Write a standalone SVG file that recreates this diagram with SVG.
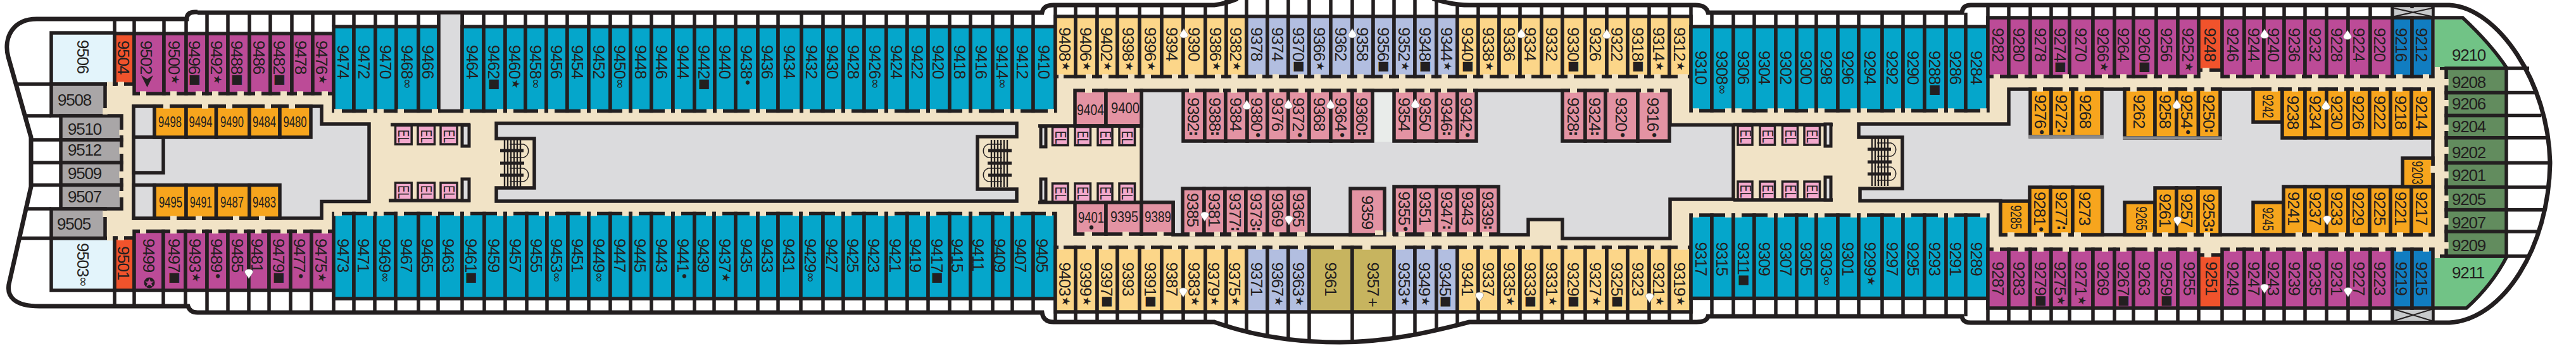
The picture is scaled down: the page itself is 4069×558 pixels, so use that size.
<svg xmlns="http://www.w3.org/2000/svg" width="4069" height="558" viewBox="0 0 4069 558">
<style>
rect{stroke:#231f20;stroke-width:5.5}
text{fill:#231f20;font-family:"Liberation Sans",Arial,sans-serif;font-size:26px;letter-spacing:-1.2px}
tspan{font-family:"DejaVu Sans",sans-serif;letter-spacing:0}
.a{font-size:17px}.b{font-size:20px}.c{font-size:22px}.d{font-size:21px;font-weight:bold}.e{font-size:20px}
.p{font-family:"Liberation Sans",sans-serif}
.h{font-size:23px;letter-spacing:0}
.sm{font-size:23px;letter-spacing:0}
.el text{font-size:23px;letter-spacing:0}
.w{fill:none;stroke:#231f20;stroke-width:5.5}
.hull{fill:none;stroke:#231f20;stroke-width:7}
.door{fill:none;stroke:#F1E3C6;stroke-width:7.5}
.bg{fill:#F1E3C6;stroke:none}
.gray{fill:#DBDBDD;stroke:#231f20;stroke-width:5.5}
.blue rect{fill:#05A6CB}.pur rect{fill:#BC4B97}.org rect{fill:#F0532C}.amb rect{fill:#F7A51D}.yel rect{fill:#FCD689}
.lav rect{fill:#B2BEE0}.ros rect{fill:#E393A3}.olv rect{fill:#C7B45F}.dbl rect{fill:#117DC1}.gc rect{fill:#A9A6A7}
.lb rect{fill:#E3F4FB}.dg rect{fill:#628C5E}.el rect{fill:#F3A9CC;stroke-width:3.5}.cl rect{fill:#DBDBDD;stroke-width:5}
.lg rect{fill:#DBDBDD}
</style>
<defs>
<path id="tu" d="M0-7C2-3 6.5 1 6.5 4A6.5 4 0 0 1-6.5 4C-6.5 1-2-3 0-7Z" fill="#fff" stroke="#777" stroke-width=".6"/>
<path id="td" d="M0 7C2 3 6.5-1 6.5-4A6.5 4 0 0 0-6.5-4C-6.5-1-2 3 0 7Z" fill="#fff" stroke="#777" stroke-width=".6"/>
<g id="st">
<path d="M797 221V296M802 221V296M807 221V296M812 221V296M817 221V296M822 221V296" fill="none" stroke="#231f20" stroke-width="2.4"/>
<path d="M790 238H827M790 258H828M790 277H827" fill="none" stroke="#231f20" stroke-width="5"/>
<path d="M805 228H827a11 11 0 0 1 0 21H805M805 266H827a11 11 0 0 1 0 21H805" fill="none" stroke="#231f20" stroke-width="1.6"/>
</g>
</defs>

<rect class="bg" x="165" y="120" width="3697" height="289"/>
<rect class="bg" x="3846" y="105" width="8.5" height="17"/>
<rect class="bg" x="3854" y="110" width="10" height="12"/>
<rect class="bg" x="3476" y="112" width="32" height="10"/>
<rect class="bg" x="3476" y="396" width="32" height="6"/>

<g id="gray-areas">
<path class="gray" d="M211 168H508V196H583V318.5H508V345H211Z"/>
<path class="gray" d="M784 195H1606V216H1544V299H1606V318H784V297H844V219H784Z"/>
<path class="gray" d="M1803 143H2638V197.5H2738V315H2638V377H2468V347H2414V371H1853V320H1803Z"/>
<path class="gray" d="M3173 141H3843V371H3160V317.5H2938V298H3005V217H2936V196H3173Z"/>
<rect x="2171" y="146" width="28" height="78" style="fill:#E9ECEA;stroke:none"/>
<rect class="bg" x="2168" y="367" width="32" height="7"/>
</g>

<g id="hull">
<path class="hull" d="M312 19H308Q295 19 295 30H62C20 28 5 60 13 90L49 217V295L15 445C8 470 25 484 62 484H297Q300 494 312 494H1646Q1648 509 1664 509H1918C1990 535 2060 541 2116 541C2190 541 2260 525 2321 509H2680Q2696 509 2698 500H3099Q3100 510 3113 510H3869C3955 505 4026 390 4028 258C4026 130 3945 12 3869 8H3113Q3100 8 3099 20H2698Q2695 8 2678 8H2321Q2295 8 2263-2M1955-2Q1935 6 1918 8H1664Q1648 8 1646 20H312"/>
</g>

<g id="balcony-lines">
<path class="w" d="M181 30V53M212 30V53M259 30V53M294 30V53M327 20V53M360 20V53M394 20V53M427 20V53M461 20V53M494 20V53M527 20V42M559 20V42M593 20V42M626 20V42M661 20V42M693 20V42M730 20V42M764 20V42M798 20V42M830 20V42M863 20V42M896 20V42M930 20V42M964 20V42M996 20V42M1029 20V42M1063 20V42M1097 20V42M1129 20V42M1162 20V42M1197 20V42M1229 20V42M1266 20V42M1300 20V42M1332 20V42M1365 20V42M1400 20V42M1433 20V42M1466 20V42M1500 20V42M1533 20V42M1568 20V42M1599 20V42M1632 20V42M1667 8V42"/>
<path class="w" d="M181 459V483M212 459V483M258 459V483M293 459V483M327 459V494M360 459V494M393 459V494M425 459V494M459 459V494M492 459V494M527 459V494M559 472V494M592 472V494M625 472V494M661 472V494M692 472V494M730 472V494M765 472V494M798 472V494M832 472V494M864 472V494M897 472V494M930 472V494M964 472V494M996 472V494M1029 472V494M1063 472V494M1097 472V494M1128 472V494M1162 472V494M1197 472V494M1229 472V494M1265 472V494M1300 472V494M1332 472V494M1365 472V494M1400 472V494M1433 472V494M1466 472V494M1500 472V494M1533 472V494M1568 472V494M1599 472V494M1632 472V494M1667 472V509"/>
<path class="w" d="M1699 8V26M1733 8V26M1765 8V26M1800 8V26M1835 8V26M1869 8V26M1904 8V26M1937 0V26M1969 0V26M2002 0V26M2035 0V26M2068 0V26M2102 0V26M2136 0V26M2169 0V26M2202 0V26M2235 0V26M2269 0V26M2302 4V26M2335 8V26M2368 8V26M2401 8V26M2435 8V26M2468 8V26M2504 8V26M2538 8V26M2571 8V26M2605 8V26M2637 8V26M2671 8V42"/>
<path class="w" d="M1699 493V509M1733 493V509M1765 493V509M1800 493V509M1835 493V509M1869 493V509M1904 493V509M1937 493V517M1969 493V527M2002 493V533M2035 493V537M2068 493V540M2136 493V540M2202 493V533M2235 493V528M2269 493V522M2302 493V514M2335 493V509M2368 493V509M2401 493V509M2435 493V509M2468 493V509M2504 493V509M2538 493V509M2571 493V509M2605 493V509M2637 493V509M2671 471V509"/>
<path class="w" d="M2704 20V42M2738 20V42M2771 20V42M2805 20V42M2838 20V42M2869 20V42M2903 20V42M2936 20V42M2973 20V42M3006 20V42M3040 20V42M3074 20V42M3105 20V42M3140 8V42M3173 8V28M3207 8V28M3240 8V28M3269 8V28M3306 8V28M3340 8V28M3370 8V28M3406 8V28M3440 8V28M3473 8V28M3510 8V28M3545 8V28M3576 8V28M3608 8V28M3641 8V28M3675 8V28M3709 8V28M3744 8V28M3779 8V28M3810 8V28M3843 8V28"/>
<path class="w" d="M2704 471V500M2738 471V500M2771 471V500M2805 471V500M2838 471V500M2869 471V500M2903 471V500M2936 471V500M2973 471V500M3006 471V500M3040 471V500M3074 471V500M3105 471V500M3140 471V510M3173 487V510M3207 487V510M3240 487V510M3269 487V510M3306 487V510M3340 487V510M3370 487V510M3406 487V510M3440 487V510M3473 487V510M3510 487V510M3545 487V510M3576 487V510M3608 487V510M3641 487V510M3675 487V510M3709 487V510M3744 487V510M3779 487V510M3810 487V510M3843 487V510"/>
<path class="w" d="M26 133H81M41 183H81M49 221H96M49 257H96M49 292.5H96M39 330H81M29 376.5H81"/>
<path class="w" d="M3854 108H3995M3959 146.6H4006M3959 182.6H4014M3959 217.8H4022M3959 257.6H4027M3959 296H4025M3959 331.7H4018M3959 366H4009M3854 405H3995"/>
</g>

<g id="xshafts">
<rect x="3782" y="13" width="59" height="13" style="fill:#C8CACC;stroke:none"/>
<rect x="3782" y="489" width="59" height="18" style="fill:#C8CACC;stroke:none"/>
<path d="M3782 13L3841 26M3841 13L3782 26M3782 489L3841 507M3841 489L3782 507" fill="none" stroke="#231f20" stroke-width="2"/>
</g>

<g id="aft-ends">
<g class="lb"><rect x="81" y="52" width="100" height="81"/><text transform="translate(121.5 63)rotate(90)">9506</text>
<rect x="81" y="376.5" width="100" height="82.5"/><text transform="translate(121.5 384)rotate(90)">9503<tspan class="e" dy="-3">∞</tspan></text></g>
<g class="org"><rect x="181" y="53" width="31" height="80"/><text transform="translate(186 64)rotate(90)">9504</text>
<rect x="181" y="376" width="31" height="83"/><text transform="translate(186 389)rotate(90)">9501</text></g>
<g class="gc">
<rect x="81" y="133" width="85" height="50"/><text x="91" y="167">9508</text>
<rect x="96" y="183" width="96" height="38"/><text x="107" y="212.5">9510</text>
<rect x="96" y="221" width="96" height="36"/><text x="107" y="246">9512</text>
<rect x="96" y="257" width="96" height="35.5"/><text x="107" y="283">9509</text>
<rect x="96" y="292.5" width="96" height="37.5"/><text x="107" y="319.5">9507</text>
<rect x="81" y="330" width="85" height="46.5"/><text x="90" y="363">9505</text>
</g>
</g>

<g id="aft-top-purple" class="pur">
<rect x="212" y="53" width="47" height="95"/><text transform="translate(222 64)rotate(90)">9502</text>
<polygon points="223,119 232.5,125 242,119 232.5,138" fill="#231f20"/>
<rect x="259" y="53" width="35" height="95"/><text transform="translate(266 64)rotate(90)">9500<tspan class="a" dy="-5" dx="1">★</tspan></text>
<rect x="294" y="53" width="33" height="95"/><text transform="translate(298 64)rotate(90)">9496<tspan class="b" dy="-4">■</tspan></text>
<rect x="327" y="53" width="33" height="95"/><text transform="translate(333 64)rotate(90)">9492<tspan class="a" dy="-5" dx="1">★</tspan></text>
<rect x="360" y="53" width="34" height="95"/><text transform="translate(365 64)rotate(90)">9488<tspan class="b" dy="-4">■</tspan></text>
<rect x="394" y="53" width="33" height="95"/><text transform="translate(399.5 64)rotate(90)">9486</text>
<rect x="427" y="53" width="34" height="95"/><text transform="translate(432 64)rotate(90)">9482<tspan class="b" dy="-4">■</tspan></text>
<rect x="461" y="53" width="33" height="95"/><text transform="translate(465.5 64)rotate(90)">9478</text>
<rect x="494" y="53" width="33" height="95"/><text transform="translate(499 64)rotate(90)">9476<tspan class="a" dy="-5" dx="1">★</tspan></text>
</g>

<g id="aft-bottom-purple" class="pur">
<rect x="212" y="365.5" width="46" height="93.5"/><text transform="translate(226 377)rotate(90)">9499</text>
<circle cx="236" cy="447" r="8.5" fill="#231f20"/><polygon points="236,440 238,445 243,445 239,448 241,453 236,450 231,453 233,448 229,445 234,445" fill="#BC4B97"/>
<rect x="258" y="365.5" width="35" height="93.5"/><text transform="translate(266 377)rotate(90)">9497<tspan class="b" dy="-4">■</tspan></text>
<rect x="293" y="365.5" width="34" height="93.5"/><text transform="translate(299 377)rotate(90)">9493<tspan class="a" dy="-5" dx="1">★</tspan></text>
<rect x="327" y="365.5" width="33" height="93.5"/><text transform="translate(333 377)rotate(90)">9489<tspan class="c" dy="-3">•</tspan></text>
<rect x="360" y="365.5" width="33" height="93.5"/><text transform="translate(366 377)rotate(90)">9485</text>
<rect x="393" y="365.5" width="32" height="93.5"/><text transform="translate(396.5 377)rotate(90)">9481</text>
<rect x="425" y="365.5" width="34" height="93.5"/><text transform="translate(431 377)rotate(90)">9479<tspan class="b" dy="-4">■</tspan></text>
<rect x="459" y="365.5" width="33" height="93.5"/><text transform="translate(464 377)rotate(90)">9477<tspan class="c" dy="-3">•</tspan></text>
<rect x="492" y="365.5" width="35" height="93.5"/><text transform="translate(498 377)rotate(90)">9475<tspan class="a" dy="-5" dx="1">★</tspan></text>
</g>

<g id="aft-inner">
<g class="lg"><rect x="211" y="168" width="33" height="49"/><rect x="211" y="217" width="47" height="56"/><rect x="211" y="292.5" width="33" height="52.5"/></g>
<g class="amb">
<rect x="244" y="168" width="50" height="49"/><text class="h" x="250" y="201" textLength="37" lengthAdjust="spacingAndGlyphs">9498</text>
<rect x="294" y="168" width="47.5" height="49"/><text class="h" x="298.5" y="201" textLength="37" lengthAdjust="spacingAndGlyphs">9494</text>
<rect x="341.5" y="168" width="52.5" height="49"/><text class="h" x="348" y="201" textLength="37" lengthAdjust="spacingAndGlyphs">9490</text>
<rect x="394" y="168" width="48" height="49"/><text class="h" x="399" y="201" textLength="37" lengthAdjust="spacingAndGlyphs">9484</text>
<rect x="442" y="168" width="49" height="49"/><text class="h" x="447.5" y="201" textLength="37" lengthAdjust="spacingAndGlyphs">9480</text>
<rect x="244" y="292.5" width="50" height="52.5"/><text class="h" x="251" y="327.5" textLength="37" lengthAdjust="spacingAndGlyphs">9495</text>
<rect x="294" y="292.5" width="47.5" height="52.5"/><text class="h" x="300" y="327.5" textLength="35" lengthAdjust="spacingAndGlyphs">9491</text>
<rect x="341.5" y="292.5" width="52.5" height="52.5"/><text class="h" x="348" y="327.5" textLength="37" lengthAdjust="spacingAndGlyphs">9487</text>
<rect x="394" y="292.5" width="48" height="52.5"/><text class="h" x="399" y="327.5" textLength="37" lengthAdjust="spacingAndGlyphs">9483</text>
</g>
</g>

<g id="aft-top-blue" class="blue">
<rect x="527" y="42" width="32" height="133.5"/><text transform="translate(533 71)rotate(90)">9474</text>
<rect x="559" y="42" width="34" height="133.5"/><text transform="translate(566 71)rotate(90)">9472</text>
<rect x="593" y="42" width="33" height="133.5"/><text transform="translate(600 71)rotate(90)">9470</text>
<rect x="626" y="42" width="35" height="133.5"/><text transform="translate(634 71)rotate(90)">9468<tspan class="e" dy="-3">∞</tspan></text>
<rect x="661" y="42" width="32" height="133.5"/><text transform="translate(667 71)rotate(90)">9466</text>
<rect x="693" y="20" width="37" height="155.5" style="fill:#DBDBDD"/>
<rect x="730" y="42" width="34" height="133.5"/><text transform="translate(737 71)rotate(90)">9464</text>
<rect x="764" y="42" width="34" height="133.5"/><text transform="translate(771 71)rotate(90)">9462<tspan class="b" dy="-4">■</tspan></text>
<rect x="798" y="42" width="32" height="133.5"/><text transform="translate(804 71)rotate(90)">9460<tspan class="a" dy="-5" dx="1">★</tspan></text>
<rect x="830" y="42" width="33" height="133.5"/><text transform="translate(837 71)rotate(90)">9458<tspan class="e" dy="-3">∞</tspan></text>
<rect x="863" y="42" width="33" height="133.5"/><text transform="translate(870 71)rotate(90)">9456</text>
<rect x="896" y="42" width="34" height="133.5"/><text transform="translate(903 71)rotate(90)">9454</text>
<rect x="930" y="42" width="34" height="133.5"/><text transform="translate(937 71)rotate(90)">9452</text>
<rect x="964" y="42" width="32" height="133.5"/><text transform="translate(970 71)rotate(90)">9450<tspan class="e" dy="-3">∞</tspan></text>
<rect x="996" y="42" width="33" height="133.5"/><text transform="translate(1003 71)rotate(90)">9448</text>
<rect x="1029" y="42" width="34" height="133.5"/><text transform="translate(1036 71)rotate(90)">9446</text>
<rect x="1063" y="42" width="34" height="133.5"/><text transform="translate(1070 71)rotate(90)">9444</text>
<rect x="1097" y="42" width="32" height="133.5"/><text transform="translate(1103 71)rotate(90)">9442<tspan class="b" dy="-4">■</tspan></text>
<rect x="1129" y="42" width="33" height="133.5"/><text transform="translate(1136 71)rotate(90)">9440</text>
<rect x="1162" y="42" width="35" height="133.5"/><text transform="translate(1170 71)rotate(90)">9438<tspan class="c" dy="-3">•</tspan></text>
<rect x="1197" y="42" width="32" height="133.5"/><text transform="translate(1203 71)rotate(90)">9436</text>
<rect x="1229" y="42" width="37" height="133.5"/><text transform="translate(1238 71)rotate(90)">9434</text>
<rect x="1266" y="42" width="34" height="133.5"/><text transform="translate(1273 71)rotate(90)">9432</text>
<rect x="1300" y="42" width="32" height="133.5"/><text transform="translate(1306 71)rotate(90)">9430</text>
<rect x="1332" y="42" width="33" height="133.5"/><text transform="translate(1339 71)rotate(90)">9428</text>
<rect x="1365" y="42" width="35" height="133.5"/><text transform="translate(1373 71)rotate(90)">9426<tspan class="e" dy="-3">∞</tspan></text>
<rect x="1400" y="42" width="33" height="133.5"/><text transform="translate(1407 71)rotate(90)">9424</text>
<rect x="1433" y="42" width="33" height="133.5"/><text transform="translate(1440 71)rotate(90)">9422</text>
<rect x="1466" y="42" width="34" height="133.5"/><text transform="translate(1473 71)rotate(90)">9420</text>
<rect x="1500" y="42" width="33" height="133.5"/><text transform="translate(1507 71)rotate(90)">9418</text>
<rect x="1533" y="42" width="35" height="133.5"/><text transform="translate(1541 71)rotate(90)">9416</text>
<rect x="1568" y="42" width="31" height="133.5"/><text transform="translate(1574 71)rotate(90)">9414<tspan class="e" dy="-3">∞</tspan></text>
<rect x="1599" y="42" width="33" height="133.5"/><text transform="translate(1606 71)rotate(90)">9412</text>
<rect x="1632" y="42" width="35" height="133.5"/><text transform="translate(1640 71)rotate(90)">9410</text>
</g>

<g id="aft-bottom-blue" class="blue">
<rect x="527" y="337.5" width="32" height="134.5"/><text transform="translate(533 377)rotate(90)">9473</text>
<rect x="559" y="337.5" width="33" height="134.5"/><text transform="translate(565 377)rotate(90)">9471</text>
<rect x="592" y="337.5" width="33" height="134.5"/><text transform="translate(599 377)rotate(90)">9469<tspan class="e" dy="-3">∞</tspan></text>
<rect x="625" y="337.5" width="36" height="134.5"/><text transform="translate(633 377)rotate(90)">9467</text>
<rect x="661" y="337.5" width="31" height="134.5"/><text transform="translate(666 377)rotate(90)">9465</text>
<rect x="692" y="337.5" width="38" height="134.5"/><text transform="translate(699 377)rotate(90)">9463</text>
<rect x="730" y="337.5" width="35" height="134.5"/><text transform="translate(735 377)rotate(90)">9461<tspan class="b" dy="-4">■</tspan></text>
<rect x="765" y="337.5" width="33" height="134.5"/><text transform="translate(771 377)rotate(90)">9459</text>
<rect x="798" y="337.5" width="34" height="134.5"/><text transform="translate(805 377)rotate(90)">9457</text>
<rect x="832" y="337.5" width="32" height="134.5"/><text transform="translate(838 377)rotate(90)">9455</text>
<rect x="864" y="337.5" width="33" height="134.5"/><text transform="translate(870 377)rotate(90)">9453<tspan class="e" dy="-3">∞</tspan></text>
<rect x="897" y="337.5" width="33" height="134.5"/><text transform="translate(903 377)rotate(90)">9451</text>
<rect x="930" y="337.5" width="34" height="134.5"/><text transform="translate(937 377)rotate(90)">9449<tspan class="e" dy="-3">∞</tspan></text>
<rect x="964" y="337.5" width="32" height="134.5"/><text transform="translate(970 377)rotate(90)">9447</text>
<rect x="996" y="337.5" width="33" height="134.5"/><text transform="translate(1002 377)rotate(90)">9445</text>
<rect x="1029" y="337.5" width="34" height="134.5"/><text transform="translate(1036 377)rotate(90)">9443</text>
<rect x="1063" y="337.5" width="34" height="134.5"/><text transform="translate(1070 377)rotate(90)">9441<tspan class="c" dy="-3">•</tspan></text>
<rect x="1097" y="337.5" width="31" height="134.5"/><text transform="translate(1102 377)rotate(90)">9439</text>
<rect x="1128" y="337.5" width="34" height="134.5"/><text transform="translate(1136 377)rotate(90)">9437<tspan class="a" dy="-5" dx="1">★</tspan></text>
<rect x="1162" y="337.5" width="35" height="134.5"/><text transform="translate(1170 377)rotate(90)">9435</text>
<rect x="1197" y="337.5" width="32" height="134.5"/><text transform="translate(1203 377)rotate(90)">9433</text>
<rect x="1229" y="337.5" width="36" height="134.5"/><text transform="translate(1237 377)rotate(90)">9431</text>
<rect x="1265" y="337.5" width="35" height="134.5"/><text transform="translate(1271 377)rotate(90)">9429<tspan class="e" dy="-3">∞</tspan></text>
<rect x="1300" y="337.5" width="32" height="134.5"/><text transform="translate(1305 377)rotate(90)">9427</text>
<rect x="1332" y="337.5" width="33" height="134.5"/><text transform="translate(1338 377)rotate(90)">9425</text>
<rect x="1365" y="337.5" width="35" height="134.5"/><text transform="translate(1371 377)rotate(90)">9423</text>
<rect x="1400" y="337.5" width="33" height="134.5"/><text transform="translate(1405 377)rotate(90)">9421</text>
<rect x="1433" y="337.5" width="33" height="134.5"/><text transform="translate(1437 377)rotate(90)">9419</text>
<rect x="1466" y="337.5" width="34" height="134.5"/><text transform="translate(1471 377)rotate(90)">9417<tspan class="b" dy="-4">■</tspan></text>
<rect x="1500" y="337.5" width="33" height="134.5"/><text transform="translate(1503 377)rotate(90)">9415</text>
<rect x="1533" y="337.5" width="35" height="134.5"/><text transform="translate(1536 377)rotate(90)">9411</text>
<rect x="1568" y="337.5" width="31" height="134.5"/><text transform="translate(1570 377)rotate(90)">9409</text>
<rect x="1599" y="337.5" width="33" height="134.5"/><text transform="translate(1603 377)rotate(90)">9407</text>
<rect x="1632" y="337.5" width="35" height="134.5"/><text transform="translate(1637 377)rotate(90)">9405</text>
</g>

<g id="mid-top" class="yel">
<rect x="1667" y="26" width="32" height="95"/><text transform="translate(1673 43)rotate(90)">9408<tspan class="a" dy="-5" dx="1">★</tspan></text>
<rect x="1699" y="26" width="34" height="95"/><text transform="translate(1706 43)rotate(90)">9406<tspan class="a" dy="-5" dx="1">★</tspan></text>
<rect x="1733" y="26" width="32" height="95"/><text transform="translate(1739 43)rotate(90)">9402<tspan class="a" dy="-5" dx="1">★</tspan></text>
<rect x="1765" y="26" width="35" height="95"/><text transform="translate(1773 43)rotate(90)">9398<tspan class="a" dy="-5" dx="1">★</tspan></text>
<rect x="1800" y="26" width="35" height="95"/><text transform="translate(1808 43)rotate(90)">9396<tspan class="a" dy="-5" dx="1">★</tspan></text>
<rect x="1835" y="26" width="34" height="95"/><text transform="translate(1842 43)rotate(90)">9394</text>
<rect x="1869" y="26" width="35" height="95"/><text transform="translate(1877 43)rotate(90)">9390</text>
<rect x="1904" y="26" width="33" height="95"/><text transform="translate(1911 43)rotate(90)">9386<tspan class="a" dy="-5" dx="1">★</tspan></text>
<rect x="1937" y="26" width="32" height="95"/><text transform="translate(1943 43)rotate(90)">9382<tspan class="a" dy="-5" dx="1">★</tspan></text>
<g class="lav">
<rect x="1969" y="26" width="33" height="95"/><text transform="translate(1976 43)rotate(90)">9378</text>
<rect x="2002" y="26" width="33" height="95"/><text transform="translate(2009 43)rotate(90)">9374</text>
<rect x="2035" y="26" width="33" height="95"/><text transform="translate(2042 43)rotate(90)">9370<tspan class="b" dy="-4">■</tspan></text>
<rect x="2068" y="26" width="34" height="95"/><text transform="translate(2075 43)rotate(90)">9366<tspan class="a" dy="-5" dx="1">★</tspan></text>
<rect x="2102" y="26" width="34" height="95"/><text transform="translate(2109 43)rotate(90)">9362</text>
<rect x="2136" y="26" width="33" height="95"/><text transform="translate(2143 43)rotate(90)">9358</text>
<rect x="2169" y="26" width="33" height="95"/><text transform="translate(2176 43)rotate(90)">9356<tspan class="b" dy="-4">■</tspan></text>
<rect x="2202" y="26" width="33" height="95"/><text transform="translate(2209 43)rotate(90)">9352<tspan class="a" dy="-5" dx="1">★</tspan></text>
<rect x="2235" y="26" width="34" height="95"/><text transform="translate(2242 43)rotate(90)">9348<tspan class="b" dy="-4">■</tspan></text>
<rect x="2269" y="26" width="33" height="95"/><text transform="translate(2276 43)rotate(90)">9344<tspan class="a" dy="-5" dx="1">★</tspan></text>
</g>
<rect x="2302" y="26" width="33" height="95"/><text transform="translate(2309 43)rotate(90)">9340<tspan class="b" dy="-4">■</tspan></text>
<rect x="2335" y="26" width="33" height="95"/><text transform="translate(2342 43)rotate(90)">9338<tspan class="a" dy="-5" dx="1">★</tspan></text>
<rect x="2368" y="26" width="33" height="95"/><text transform="translate(2375 43)rotate(90)">9336</text>
<rect x="2401" y="26" width="34" height="95"/><text transform="translate(2408 43)rotate(90)">9334</text>
<rect x="2435" y="26" width="33" height="95"/><text transform="translate(2442 43)rotate(90)">9332</text>
<rect x="2468" y="26" width="36" height="95"/><text transform="translate(2476 43)rotate(90)">9330<tspan class="b" dy="-4">■</tspan></text>
<rect x="2504" y="26" width="34" height="95"/><text transform="translate(2511 43)rotate(90)">9326</text>
<rect x="2538" y="26" width="33" height="95"/><text transform="translate(2545 43)rotate(90)">9322</text>
<rect x="2571" y="26" width="34" height="95"/><text transform="translate(2578 43)rotate(90)">9318<tspan class="b" dy="-4">■</tspan></text>
<rect x="2605" y="26" width="32" height="95"/><text transform="translate(2611 43)rotate(90)">9314<tspan class="a" dy="-5" dx="1">★</tspan></text>
<rect x="2637" y="26" width="34" height="95"/><text transform="translate(2644 43)rotate(90)">9312<tspan class="a" dy="-5" dx="1">★</tspan></text>
</g>

<g id="mid-bottom" class="yel">
<rect x="1667" y="391" width="32" height="102"/><text transform="translate(1673 414.5)rotate(90)">9403<tspan class="a" dy="-5" dx="1">★</tspan></text>
<rect x="1699" y="391" width="34" height="102"/><text transform="translate(1706 414.5)rotate(90)">9399<tspan class="a" dy="-5" dx="1">★</tspan></text>
<rect x="1733" y="391" width="32" height="102"/><text transform="translate(1739 414.5)rotate(90)">9397<tspan class="b" dy="-4">■</tspan></text>
<rect x="1765" y="391" width="35" height="102"/><text transform="translate(1773 414.5)rotate(90)">9393</text>
<rect x="1800" y="391" width="35" height="102"/><text transform="translate(1808 414.5)rotate(90)">9391<tspan class="b" dy="-4">■</tspan></text>
<rect x="1835" y="391" width="34" height="102"/><text transform="translate(1842 414.5)rotate(90)">9387</text>
<rect x="1869" y="391" width="35" height="102"/><text transform="translate(1877 414.5)rotate(90)">9383<tspan class="a" dy="-5" dx="1">★</tspan></text>
<rect x="1904" y="391" width="33" height="102"/><text transform="translate(1908 414.5)rotate(90)">9379<tspan class="a" dy="-5" dx="1">★</tspan></text>
<rect x="1937" y="391" width="32" height="102"/><text transform="translate(1941 414.5)rotate(90)">9375<tspan class="a" dy="-5" dx="1">★</tspan></text>
<g class="lav">
<rect x="1969" y="391" width="33" height="102"/><text transform="translate(1976 414.5)rotate(90)">9371</text>
<rect x="2002" y="391" width="33" height="102"/><text transform="translate(2009 414.5)rotate(90)">9367<tspan class="a" dy="-5" dx="1">★</tspan></text>
<rect x="2035" y="391" width="33" height="102"/><text transform="translate(2042 414.5)rotate(90)">9363<tspan class="a" dy="-5" dx="1">★</tspan></text>
</g>
<g class="olv">
<rect x="2068" y="391" width="68" height="102"/><text transform="translate(2093 414.5)rotate(90)">9361</text>
<rect x="2136" y="391" width="66" height="102"/><text transform="translate(2160 414.5)rotate(90)">9357<tspan class="p" dx="3">+</tspan></text>
</g>
<g class="lav">
<rect x="2202" y="391" width="33" height="102"/><text transform="translate(2209 414.5)rotate(90)">9353<tspan class="a" dy="-5" dx="1">★</tspan></text>
<rect x="2235" y="391" width="34" height="102"/><text transform="translate(2241 414.5)rotate(90)">9349<tspan class="a" dy="-5" dx="1">★</tspan></text>
<rect x="2269" y="391" width="33" height="102"/><text transform="translate(2274 414.5)rotate(90)">9345<tspan class="b" dy="-4">■</tspan></text>
</g>
<rect x="2302" y="391" width="33" height="102"/><text transform="translate(2309 414.5)rotate(90)">9341</text>
<rect x="2335" y="391" width="33" height="102"/><text transform="translate(2342 414.5)rotate(90)">9337</text>
<rect x="2368" y="391" width="33" height="102"/><text transform="translate(2375 414.5)rotate(90)">9335<tspan class="a" dy="-5" dx="1">★</tspan></text>
<rect x="2401" y="391" width="34" height="102"/><text transform="translate(2408 414.5)rotate(90)">9333<tspan class="b" dy="-4">■</tspan></text>
<rect x="2435" y="391" width="33" height="102"/><text transform="translate(2442 414.5)rotate(90)">9331<tspan class="a" dy="-5" dx="1">★</tspan></text>
<rect x="2468" y="391" width="36" height="102"/><text transform="translate(2476 414.5)rotate(90)">9329<tspan class="b" dy="-4">■</tspan></text>
<rect x="2504" y="391" width="34" height="102"/><text transform="translate(2511 414.5)rotate(90)">9327<tspan class="a" dy="-5" dx="1">★</tspan></text>
<rect x="2538" y="391" width="33" height="102"/><text transform="translate(2545 414.5)rotate(90)">9325<tspan class="b" dy="-4">■</tspan></text>
<rect x="2571" y="391" width="34" height="102"/><text transform="translate(2578 414.5)rotate(90)">9323</text>
<rect x="2605" y="391" width="32" height="102"/><text transform="translate(2611 414.5)rotate(90)">9321<tspan class="a" dy="-5" dx="1">★</tspan></text>
<rect x="2637" y="391" width="34" height="102"/><text transform="translate(2644 414.5)rotate(90)">9319<tspan class="a" dy="-5" dx="1">★</tspan></text>
</g>

<g id="mid-inner" class="ros">
<rect x="1698" y="143" width="49" height="56"/><text class="h" x="1701" y="181.5" textLength="43" lengthAdjust="spacingAndGlyphs">9404</text>
<rect x="1747" y="143" width="56" height="56"/><text class="h" x="1755" y="179" textLength="45" lengthAdjust="spacingAndGlyphs">9400</text>
<rect x="1698" y="320" width="49" height="50"/><text class="h" x="1703" y="352" textLength="41" lengthAdjust="spacingAndGlyphs">9401</text><circle cx="1724" cy="359.5" r="3.2" fill="#231f20"/>
<rect x="1747" y="320" width="56" height="50"/><text class="h" x="1754" y="350.5" textLength="44" lengthAdjust="spacingAndGlyphs">9395</text>
<rect x="1803" y="320" width="50" height="50"/><text class="h" x="1808" y="350.5" textLength="42" lengthAdjust="spacingAndGlyphs">9389</text>
<rect x="1869" y="143" width="34" height="80"/><text transform="translate(1876 154)rotate(90)">9392<tspan class="d" dy="-3">:</tspan></text>
<rect x="1903" y="143" width="33" height="80"/><text transform="translate(1910 154)rotate(90)">9388<tspan class="d" dy="-3">:</tspan></text>
<rect x="1936" y="143" width="34" height="80"/><text transform="translate(1943 154)rotate(90)">9384</text>
<rect x="1970" y="143" width="32" height="80"/><text transform="translate(1976 154)rotate(90)">9380<tspan class="c" dy="-3">•</tspan></text>
<rect x="2002" y="143" width="33" height="80"/><text transform="translate(2009 154)rotate(90)">9376</text>
<rect x="2035" y="143" width="33" height="80"/><text transform="translate(2042 154)rotate(90)">9372<tspan class="c" dy="-3">•</tspan></text>
<rect x="2068" y="143" width="34" height="80"/><text transform="translate(2075 154)rotate(90)">9368</text>
<rect x="2102" y="143" width="34" height="80"/><text transform="translate(2109 154)rotate(90)">9364<tspan class="c" dy="-3">•</tspan></text>
<rect x="2136" y="143" width="32" height="80"/><text transform="translate(2142 154)rotate(90)">9360<tspan class="d" dy="-3">:</tspan></text>
<rect x="2202" y="143" width="33" height="80"/><text transform="translate(2209 154)rotate(90)">9354</text>
<rect x="2235" y="143" width="34" height="80"/><text transform="translate(2242 154)rotate(90)">9350</text>
<rect x="2269" y="143" width="33" height="80"/><text transform="translate(2276 154)rotate(90)">9346<tspan class="d" dy="-3">:</tspan></text>
<rect x="2302" y="143" width="30" height="80"/><text transform="translate(2307 154)rotate(90)">9342<tspan class="c" dy="-3">•</tspan></text>
<rect x="2468" y="143" width="36" height="80"/><text transform="translate(2476 154)rotate(90)">9328<tspan class="d" dy="-3">:</tspan></text>
<rect x="2504" y="143" width="32" height="80"/><text transform="translate(2510 154)rotate(90)">9324<tspan class="d" dy="-3">:</tspan></text>
<rect x="2536" y="143" width="51" height="80"/><text transform="translate(2552 154)rotate(90)">9320<tspan class="c" dy="-3">•</tspan></text>
<rect x="2587" y="143" width="50" height="80"/><text transform="translate(2602 154)rotate(90)">9316<tspan class="c" dy="-3">•</tspan></text>
<rect x="1868" y="298" width="34" height="72"/><text transform="translate(1875 305)rotate(90)">9385</text>
<rect x="1902" y="298" width="33" height="72"/><text transform="translate(1909 305)rotate(90)">9381</text>
<rect x="1935" y="298" width="33" height="72"/><text transform="translate(1942 305)rotate(90)">9377<tspan class="d" dy="-3">:</tspan></text>
<rect x="1968" y="298" width="34" height="72"/><text transform="translate(1975 305)rotate(90)">9373<tspan class="d" dy="-3">:</tspan></text>
<rect x="2002" y="298" width="33" height="72"/><text transform="translate(2009 305)rotate(90)">9369</text>
<rect x="2035" y="298" width="33" height="72"/><text transform="translate(2042 305)rotate(90)">9365</text>
<rect x="2133" y="298" width="54" height="73"/><text transform="translate(2151 309)rotate(90)">9359</text>
<rect x="2202" y="295" width="33" height="75"/><text transform="translate(2209 302.5)rotate(90)">9355<tspan class="c" dy="-3">•</tspan></text>
<rect x="2235" y="295" width="34" height="75"/><text transform="translate(2242 302.5)rotate(90)">9351</text>
<rect x="2269" y="295" width="33" height="75"/><text transform="translate(2276 302.5)rotate(90)">9347<tspan class="d" dy="-3">:</tspan></text>
<rect x="2302" y="295" width="33" height="75"/><text transform="translate(2309 302.5)rotate(90)">9343</text>
<rect x="2335" y="295" width="32" height="75"/><text transform="translate(2341 302.5)rotate(90)">9339<tspan class="d" dy="-3">:</tspan></text>
</g>

<g id="fore-top-blue" class="blue">
<rect x="2671" y="42" width="33" height="133"/><text transform="translate(2678 80)rotate(90)">9310</text>
<rect x="2704" y="42" width="34" height="133"/><text transform="translate(2711 80)rotate(90)">9308<tspan class="e" dy="-3">∞</tspan></text>
<rect x="2738" y="42" width="33" height="133"/><text transform="translate(2745 80)rotate(90)">9306</text>
<rect x="2771" y="42" width="34" height="133"/><text transform="translate(2778 80)rotate(90)">9304</text>
<rect x="2805" y="42" width="33" height="133"/><text transform="translate(2812 80)rotate(90)">9302</text>
<rect x="2838" y="42" width="31" height="133"/><text transform="translate(2844 80)rotate(90)">9300</text>
<rect x="2869" y="42" width="34" height="133"/><text transform="translate(2876 80)rotate(90)">9298</text>
<rect x="2903" y="42" width="33" height="133"/><text transform="translate(2910 80)rotate(90)">9296</text>
<rect x="2936" y="42" width="37" height="133"/><text transform="translate(2945 80)rotate(90)">9294</text>
<rect x="2973" y="42" width="33" height="133"/><text transform="translate(2980 80)rotate(90)">9292</text>
<rect x="3006" y="42" width="34" height="133"/><text transform="translate(3013 80)rotate(90)">9290</text>
<rect x="3040" y="42" width="34" height="133"/><text transform="translate(3047 80)rotate(90)">9288<tspan class="b" dy="-4">■</tspan></text>
<rect x="3074" y="42" width="31" height="133"/><text transform="translate(3080 80)rotate(90)">9286</text>
<rect x="3105" y="42" width="35" height="133"/><text transform="translate(3113 80)rotate(90)">9284</text>
</g>

<g id="fore-bottom-blue" class="blue">
<rect x="2671" y="340" width="33" height="131.5"/><text transform="translate(2678 382.5)rotate(90)">9317</text>
<rect x="2704" y="340" width="34" height="131.5"/><text transform="translate(2711 382.5)rotate(90)">9315</text>
<rect x="2738" y="340" width="33" height="131.5"/><text transform="translate(2745 382.5)rotate(90)">9311<tspan class="b" dy="-4">■</tspan></text>
<rect x="2771" y="340" width="34" height="131.5"/><text transform="translate(2778 382.5)rotate(90)">9309</text>
<rect x="2805" y="340" width="33" height="131.5"/><text transform="translate(2812 382.5)rotate(90)">9307</text>
<rect x="2838" y="340" width="31" height="131.5"/><text transform="translate(2844 382.5)rotate(90)">9305</text>
<rect x="2869" y="340" width="34" height="131.5"/><text transform="translate(2876 382.5)rotate(90)">9303<tspan class="e" dy="-3">∞</tspan></text>
<rect x="2903" y="340" width="33" height="131.5"/><text transform="translate(2910 382.5)rotate(90)">9301</text>
<rect x="2936" y="340" width="37" height="131.5"/><text transform="translate(2945 382.5)rotate(90)">9299<tspan class="a" dy="-5" dx="1">★</tspan></text>
<rect x="2973" y="340" width="33" height="131.5"/><text transform="translate(2980 382.5)rotate(90)">9297</text>
<rect x="3006" y="340" width="34" height="131.5"/><text transform="translate(3013 382.5)rotate(90)">9295</text>
<rect x="3040" y="340" width="34" height="131.5"/><text transform="translate(3047 382.5)rotate(90)">9293</text>
<rect x="3074" y="340" width="31" height="131.5"/><text transform="translate(3080 382.5)rotate(90)">9291</text>
<rect x="3105" y="340" width="35" height="131.5"/><text transform="translate(3113 382.5)rotate(90)">9289</text>
</g>

<g id="fore-top-purple" class="pur">
<rect x="3140" y="28" width="33" height="93"/><text transform="translate(3147 44)rotate(90)">9282</text>
<rect x="3173" y="28" width="34" height="93"/><text transform="translate(3180 44)rotate(90)">9280</text>
<rect x="3207" y="28" width="33" height="93"/><text transform="translate(3214 44)rotate(90)">9278</text>
<rect x="3240" y="28" width="29" height="93"/><text transform="translate(3245 44)rotate(90)">9274<tspan class="b" dy="-4">■</tspan></text>
<rect x="3269" y="28" width="37" height="93"/><text transform="translate(3278 44)rotate(90)">9270</text>
<rect x="3306" y="28" width="34" height="93"/><text transform="translate(3313 44)rotate(90)">9266<tspan class="a" dy="-5" dx="1">★</tspan></text>
<rect x="3340" y="28" width="30" height="93"/><text transform="translate(3345 44)rotate(90)">9264</text>
<rect x="3370" y="28" width="36" height="93"/><text transform="translate(3378 44)rotate(90)">9260<tspan class="b" dy="-4">■</tspan></text>
<rect x="3406" y="28" width="34" height="93"/><text transform="translate(3413 44)rotate(90)">9256</text>
<rect x="3440" y="28" width="33" height="93"/><text transform="translate(3447 44)rotate(90)">9252<tspan class="a" dy="-5" dx="1">★</tspan></text>
<rect x="3473" y="28" width="37" height="83" style="fill:#F0532C"/><text transform="translate(3482 44)rotate(90)">9248</text>
<rect x="3510" y="28" width="35" height="93"/><text transform="translate(3518 44)rotate(90)">9246</text>
<rect x="3545" y="28" width="31" height="93"/><text transform="translate(3551 44)rotate(90)">9244</text>
<rect x="3576" y="28" width="32" height="93"/><text transform="translate(3582 44)rotate(90)">9240</text>
<rect x="3608" y="28" width="33" height="93"/><text transform="translate(3615 44)rotate(90)">9236</text>
<rect x="3641" y="28" width="34" height="93"/><text transform="translate(3648 44)rotate(90)">9232</text>
<rect x="3675" y="28" width="34" height="93"/><text transform="translate(3682 44)rotate(90)">9228</text>
<rect x="3709" y="28" width="35" height="93"/><text transform="translate(3717 44)rotate(90)">9224</text>
<rect x="3744" y="28" width="35" height="93"/><text transform="translate(3750 44)rotate(90)">9220</text>
<rect x="3779" y="28" width="31" height="93" style="fill:#117DC1"/><text transform="translate(3784 44)rotate(90)">9216</text>
<rect x="3810" y="28" width="33" height="93" style="fill:#117DC1"/><text transform="translate(3816 44)rotate(90)">9212</text>
</g>

<g id="fore-bottom-purple" class="pur">
<rect x="3140" y="394" width="33" height="93"/><text transform="translate(3147 413.5)rotate(90)">9287</text>
<rect x="3173" y="394" width="34" height="93"/><text transform="translate(3180 413.5)rotate(90)">9283</text>
<rect x="3207" y="394" width="33" height="93"/><text transform="translate(3214 413.5)rotate(90)">9279<tspan class="b" dy="-4">■</tspan></text>
<rect x="3240" y="394" width="29" height="93"/><text transform="translate(3245 413.5)rotate(90)">9275<tspan class="a" dy="-5" dx="1">★</tspan></text>
<rect x="3269" y="394" width="37" height="93"/><text transform="translate(3278 413.5)rotate(90)">9271<tspan class="a" dy="-5" dx="1">★</tspan></text>
<rect x="3306" y="394" width="34" height="93"/><text transform="translate(3313 413.5)rotate(90)">9269</text>
<rect x="3340" y="394" width="30" height="93"/><text transform="translate(3345 413.5)rotate(90)">9267<tspan class="b" dy="-4">■</tspan></text>
<rect x="3370" y="394" width="36" height="93"/><text transform="translate(3378 413.5)rotate(90)">9263</text>
<rect x="3406" y="394" width="34" height="93"/><text transform="translate(3413 413.5)rotate(90)">9259<tspan class="b" dy="-4">■</tspan></text>
<rect x="3440" y="394" width="33" height="93"/><text transform="translate(3449 413.5)rotate(90)">9255</text>
<rect x="3473" y="403" width="37" height="84" style="fill:#F0532C"/><text transform="translate(3484 413.5)rotate(90)">9251</text>
<rect x="3510" y="394" width="35" height="93"/><text transform="translate(3518 413.5)rotate(90)">9249</text>
<rect x="3545" y="394" width="31" height="93"/><text transform="translate(3551 413.5)rotate(90)">9247</text>
<rect x="3576" y="394" width="32" height="93"/><text transform="translate(3582 413.5)rotate(90)">9243</text>
<rect x="3608" y="394" width="33" height="93"/><text transform="translate(3615 413.5)rotate(90)">9239</text>
<rect x="3641" y="394" width="34" height="93"/><text transform="translate(3648 413.5)rotate(90)">9235</text>
<rect x="3675" y="394" width="34" height="93"/><text transform="translate(3682 413.5)rotate(90)">9231</text>
<rect x="3709" y="394" width="35" height="93"/><text transform="translate(3717 413.5)rotate(90)">9227</text>
<rect x="3744" y="394" width="35" height="93"/><text transform="translate(3750 413.5)rotate(90)">9223</text>
<rect x="3779" y="394" width="31" height="93" style="fill:#117DC1"/><text transform="translate(3784 413.5)rotate(90)">9219</text>
<rect x="3810" y="394" width="33" height="93" style="fill:#117DC1"/><text transform="translate(3816 413.5)rotate(90)">9215</text>
</g>

<g id="fore-inner" class="amb">
<rect x="3207" y="141" width="33" height="75"/><text transform="translate(3214 149.5)rotate(90)">9276<tspan class="c" dy="-3">•</tspan></text>
<rect x="3240" y="141" width="34" height="75"/><text transform="translate(3247 149.5)rotate(90)">9272<tspan class="d" dy="-3">:</tspan></text>
<rect x="3274" y="141" width="46" height="75"/><text transform="translate(3285 149.5)rotate(90)">9268</text>
<rect x="3356" y="141" width="48" height="77"/><text transform="translate(3370 149.5)rotate(90)">9262</text>
<rect x="3404" y="141" width="34" height="77"/><text transform="translate(3411 149.5)rotate(90)">9258</text>
<rect x="3438" y="141" width="34.5" height="77"/><text transform="translate(3445 149.5)rotate(90)">9254<tspan class="c" dy="-3">•</tspan></text>
<rect x="3472.5" y="141" width="34.5" height="77"/><text transform="translate(3480 149.5)rotate(90)">9250<tspan class="d" dy="-3">:</tspan></text>
<rect x="3559" y="141" width="46" height="52"/><text class="sm" transform="translate(3574 149.5)rotate(90)" textLength="37" lengthAdjust="spacingAndGlyphs">9242</text>
<rect x="3605" y="141" width="36" height="77"/><text transform="translate(3613 151)rotate(90)">9238</text>
<rect x="3641" y="141" width="34" height="77"/><text transform="translate(3648 151)rotate(90)">9234</text>
<rect x="3675" y="141" width="34" height="77"/><text transform="translate(3682 151)rotate(90)">9230</text>
<rect x="3709" y="141" width="34" height="77"/><text transform="translate(3716 151)rotate(90)">9226</text>
<rect x="3743" y="141" width="33" height="77"/><text transform="translate(3750 151)rotate(90)">9222</text>
<rect x="3776" y="141" width="33" height="77"/><text transform="translate(3783 151)rotate(90)">9218</text>
<rect x="3809" y="141" width="34" height="77"/><text transform="translate(3816 151)rotate(90)">9214</text>
<rect x="3160" y="318" width="46" height="53"/><text class="sm" transform="translate(3176 324.5)rotate(90)" textLength="38" lengthAdjust="spacingAndGlyphs">9285</text>
<rect x="3206" y="296" width="33" height="75"/><text transform="translate(3213 303)rotate(90)">9281<tspan class="c" dy="-3">•</tspan></text>
<rect x="3239" y="296" width="35" height="75"/><text transform="translate(3247 303)rotate(90)">9277<tspan class="d" dy="-3">:</tspan></text>
<rect x="3274" y="296" width="47" height="75"/><text transform="translate(3284 303)rotate(90)">9273</text>
<rect x="3356" y="320" width="48" height="51"/><text class="sm" transform="translate(3374 326.5)rotate(90)" textLength="38" lengthAdjust="spacingAndGlyphs">9265</text>
<rect x="3404" y="297" width="34" height="74"/><text transform="translate(3411 306)rotate(90)">9261</text>
<rect x="3438" y="297" width="34" height="74"/><text transform="translate(3445 306)rotate(90)">9257</text>
<rect x="3472" y="297" width="35" height="74"/><text transform="translate(3480 306)rotate(90)">9253<tspan class="d" dy="-3">:</tspan></text>
<rect x="3559" y="320" width="48" height="51"/><text class="sm" transform="translate(3574 328)rotate(90)" textLength="37" lengthAdjust="spacingAndGlyphs">9245</text>
<rect x="3607" y="295" width="34" height="76"/><text transform="translate(3614 303)rotate(90)">9241</text>
<rect x="3641" y="295" width="34" height="76"/><text transform="translate(3648 303)rotate(90)">9237</text>
<rect x="3675" y="295" width="34" height="76"/><text transform="translate(3682 303)rotate(90)">9233</text>
<rect x="3709" y="295" width="34" height="76"/><text transform="translate(3716 303)rotate(90)">9229</text>
<rect x="3743" y="295" width="33" height="76"/><text transform="translate(3750 303)rotate(90)">9225</text>
<rect x="3776" y="295" width="33" height="76"/><text transform="translate(3783 303)rotate(90)">9221</text>
<rect x="3809" y="295" width="34" height="76"/><text transform="translate(3816 303)rotate(90)">9217</text>
<rect x="3795" y="250" width="48" height="45"/><text class="sm" transform="translate(3810 254.5)rotate(90)" textLength="37" lengthAdjust="spacingAndGlyphs">9203</text>
<path d="M3204 216H3323M3353 218H3510" fill="none" stroke="#8a8a8c" stroke-width="5"/>
</g>

<g id="bow">
<path d="M3846 31H3890Q3935 72 3957 106H3846Z" fill="#71C386"/>
<path d="M3846 408H3958Q3935 450 3895 485H3846Z" fill="#71C386"/>
<path class="w" d="M3843 28H3890Q3935 70 3960 108M3960 405Q3937 450 3896 487H3843"/>
<text x="3873" y="96">9210</text><text x="3873" y="440">9211</text>
<g class="dg">
<rect x="3864" y="108" width="95" height="38.6"/><text x="3873" y="139">9208</text>
<rect x="3864" y="146.6" width="95" height="36"/><text x="3873" y="173">9206</text>
<rect x="3864" y="182.6" width="95" height="35.2"/><text x="3873" y="209">9204</text>
<rect x="3864" y="217.8" width="95" height="39.8"/><text x="3873" y="250">9202</text>
<rect x="3864" y="257.6" width="95" height="38.4"/><text x="3873" y="286">9201</text>
<rect x="3864" y="296" width="95" height="35.7"/><text x="3873" y="324">9205</text>
<rect x="3864" y="331.7" width="95" height="34.3"/><text x="3873" y="361">9207</text>
<rect x="3864" y="366" width="95" height="39"/><text x="3873" y="397">9209</text>
</g>
</g>

<g id="doors">
<path class="door" d="M528 176h12M628 176h10M682 176h10M732 176h10M580 176h10m6 0h10M785 176h10m6 0h10M850 176h10m6 0h10M917 176h10m6 0h10M983 176h10m6 0h10M1050 176h10m6 0h10M1116 176h10m6 0h10M1184 176h10m6 0h10M1253 176h10m6 0h10M1319 176h10m6 0h10M1387 176h10m6 0h10M1453 176h10m6 0h10M1520 176h10m6 0h10M1586 176h10m6 0h10M1655 176h10"/>
<path class="door" d="M528 337.5h12M628 337.5h10M682 337.5h10M1652 337.5h10M580 337.5h10m6 0h10M717 337.5h10m6 0h10M785 337.5h10m6 0h10M851 337.5h10m6 0h10M917 337.5h10m6 0h10M983 337.5h10m6 0h10M1050 337.5h10m6 0h10M1115 337.5h10m6 0h10M1184 337.5h10m6 0h10M1252 337.5h10m6 0h10M1319 337.5h10m6 0h10M1387 337.5h10m6 0h10M1453 337.5h10m6 0h10M1520 337.5h10m6 0h10M1586 337.5h10m6 0h10"/>
<path class="door" d="M1672 121h8M2650 121h16M1715 121h10m16 0h10M1782 121h10m16 0h10M1851 121h10m16 0h10M1919 121h10m16 0h10M1984 121h10m16 0h10M2050 121h10m16 0h10M2118 121h10m16 0h10M2184 121h10m16 0h10M2251 121h10m16 0h10M2317 121h10m16 0h10M2383 121h10m16 0h10M2450 121h10m16 0h10M2520 121h10m16 0h10M2587 121h10m16 0h10"/>
<path class="door" d="M1672 391h8M2650 391h16M1715 391h10m16 0h10M1782 391h10m16 0h10M1851 391h10m16 0h10M1919 391h10m16 0h10M1984 391h10m16 0h10M2050 391h10M2107 391h12M2152 391h13M2205 391h14M2251 391h10m16 0h10M2317 391h10m16 0h10M2383 391h10m16 0h10M2450 391h10m16 0h10M2520 391h10m16 0h10M2587 391h10m16 0h10"/>
<path class="door" d="M2674 175h10M3128 175h10M2725 175h10m6 0h10M2792 175h10m6 0h10M2856 175h10m6 0h10M2923 175h10m6 0h10M2993 175h10m6 0h10M3061 175h10m6 0h10"/>
<path class="door" d="M2674 340h10M3128 340h10M2725 340h10m6 0h10M2792 340h10m6 0h10M2856 340h10m6 0h10M2923 340h10m6 0h10M2993 340h10m6 0h10M3061 340h10m6 0h10"/>
<path class="door" d="M3149 121h10M3188 121h10M3218 121h10M3258 121h10M3283 121h10M3320 121h10M3349 121h10M3392 121h10M3415 121h10M3455 121h10M3522 121h10M3560 121h10M3585 121h10M3626 121h10M3652 121h10M3693 121h10M3718 121h10M3758 121h10M3785 121h10M3827 121h10M3479 111h11"/>
<path class="door" d="M3149 394h10M3188 394h10M3218 394h10M3258 394h10M3283 394h10M3320 394h10M3349 394h10M3392 394h10M3415 394h10M3455 394h10M3522 394h10M3560 394h10M3585 394h10M3626 394h10M3652 394h10M3693 394h10M3718 394h10M3758 394h10M3785 394h10M3827 394h10M3482 403h11"/>
<path class="door" d="M3217 141h10M3258 141h10M3283 141h10M3365 141h10M3415 141h10M3455 141h10M3482 141h10M3588 141h10M3620 141h10M3651 141h10M3693 141h10M3718 141h10M3758 141h10M3785 141h10M3824 141h10"/>
<path class="door" d="M3171 371h11M3218 371h11M3256 371h11M3276 371h11M3390 371h10M3415 371h10M3455 371h10M3481 371h10M3626 371h10M3652 371h10M3694 371h10M3718 371h10M3757 371h10M3786 371h10M3827 371h9"/>
<path class="door" d="M1714 143h11M1780 143h11M1878 143h10M1926 143h6M1944 143h10M1985 143h9M2012 143h9M2051 143h10M2076 143h11M2118 143h9M2143 143h9M2210 143h10M2250 143h9M2276 143h10M2317 143h10M2480 143h11M2541 143h11M2592 143h10M2612 143h10"/>
<path class="door" d="M1713 370h12M1773 370h10M1828 370h10M1879 370h9M1918 370h9M1945 370h9M1985 370h9M2012 370h9M2049 370h12M2172 368h13M2209 370h10M2250 370h12M2277 370h9M2317 370h10M2341 370h11"/>
<path class="door" d="M221 148h10M269 148h10M309 148h10M335 148h10M375 148h10M403 148h10M443 148h10M469 148h10M508 148h10M221 365.5h10M269 365.5h10M309 365.5h10M335 365.5h10M375 365.5h10M403 365.5h10M443 365.5h10M469 365.5h10M508 365.5h10"/>
<path class="door" d="M258 168h10M319 168h10M357 168h10M418 168h10M456 168h10M269 345h10M309 345h10M368 345h10M409 345h10"/>
<path class="door" d="M186 133h10M186 376h10M169 133h9M169 376.5h9"/>
<path class="door" d="M192 205v9M192 233v10M192 271v10M192 302v10M166 171v10M166 333v10"/>
<path class="door" d="M3864 125v10M3864 158v10M3864 197v10M3864 232v11M3864 271v11M3864 309v9M3864 345v10M3864 383v10M3843 262v11"/>
</g>

<g id="stairs">
<use href="#st"/>
<use href="#st" transform="matrix(-1 0 0 1 2388 0)"/>
<use href="#st" transform="translate(2160 -2)"/>
</g>

<g id="lift-lobbies">
<path class="w" d="M617 197H743M614 317H743M1640 199H1803M1640 320H1803M2738 197H2895M2738 316H2895"/>
<g class="cl">
<rect x="730" y="198" width="11" height="33"/><rect x="730" y="283" width="11" height="34"/>
<rect x="1644" y="200" width="8" height="32"/><rect x="1644" y="283" width="8" height="35"/>
<rect x="2883" y="196" width="9" height="35"/><rect x="2883" y="280" width="9" height="36"/>
</g>
<g class="el">
<rect x="624.5" y="198.5" width="25.7" height="29.5"/><text transform="translate(629 205)rotate(90)" textLength="21" lengthAdjust="spacingAndGlyphs">EL</text>
<rect x="660" y="198.5" width="26.5" height="29.5"/><text transform="translate(665 205)rotate(90)" textLength="21" lengthAdjust="spacingAndGlyphs">EL</text>
<rect x="696" y="198.5" width="26" height="29.5"/><text transform="translate(701 205)rotate(90)" textLength="21" lengthAdjust="spacingAndGlyphs">EL</text>
<rect x="624.5" y="289" width="25.7" height="27"/><text transform="translate(629 293)rotate(90)" textLength="21" lengthAdjust="spacingAndGlyphs">EL</text>
<rect x="660" y="289" width="26.5" height="27"/><text transform="translate(665 293)rotate(90)" textLength="21" lengthAdjust="spacingAndGlyphs">EL</text>
<rect x="696" y="289" width="26" height="27"/><text transform="translate(701 293)rotate(90)" textLength="21" lengthAdjust="spacingAndGlyphs">EL</text>
<rect x="1662.5" y="200.6" width="24.5" height="29"/><text transform="translate(1667 207)rotate(90)" textLength="21" lengthAdjust="spacingAndGlyphs">EL</text>
<rect x="1698" y="200.6" width="24.5" height="29"/><text transform="translate(1702 207)rotate(90)" textLength="21" lengthAdjust="spacingAndGlyphs">EL</text>
<rect x="1734" y="200.6" width="23" height="29"/><text transform="translate(1738 207)rotate(90)" textLength="21" lengthAdjust="spacingAndGlyphs">EL</text>
<rect x="1768" y="200.6" width="24.5" height="29"/><text transform="translate(1772 207)rotate(90)" textLength="21" lengthAdjust="spacingAndGlyphs">EL</text>
<rect x="1662.5" y="290" width="24.5" height="29"/><text transform="translate(1667 295)rotate(90)" textLength="21" lengthAdjust="spacingAndGlyphs">EL</text>
<rect x="1698" y="290" width="24.5" height="29"/><text transform="translate(1702 295)rotate(90)" textLength="21" lengthAdjust="spacingAndGlyphs">EL</text>
<rect x="1734" y="290" width="23" height="29"/><text transform="translate(1738 295)rotate(90)" textLength="21" lengthAdjust="spacingAndGlyphs">EL</text>
<rect x="1768" y="290" width="24.5" height="29"/><text transform="translate(1772 295)rotate(90)" textLength="21" lengthAdjust="spacingAndGlyphs">EL</text>
<rect x="2745" y="199" width="23" height="30"/><text transform="translate(2749 205)rotate(90)" textLength="21" lengthAdjust="spacingAndGlyphs">EL</text>
<rect x="2780" y="199" width="23.5" height="30"/><text transform="translate(2784 205)rotate(90)" textLength="21" lengthAdjust="spacingAndGlyphs">EL</text>
<rect x="2815.5" y="199" width="24" height="30"/><text transform="translate(2820 205)rotate(90)" textLength="21" lengthAdjust="spacingAndGlyphs">EL</text>
<rect x="2850" y="199" width="24.5" height="30"/><text transform="translate(2854 205)rotate(90)" textLength="21" lengthAdjust="spacingAndGlyphs">EL</text>
<rect x="2745" y="287" width="23" height="28"/><text transform="translate(2749 292)rotate(90)" textLength="21" lengthAdjust="spacingAndGlyphs">EL</text>
<rect x="2780" y="287" width="23.5" height="28"/><text transform="translate(2784 292)rotate(90)" textLength="21" lengthAdjust="spacingAndGlyphs">EL</text>
<rect x="2815.5" y="287" width="24" height="28"/><text transform="translate(2820 292)rotate(90)" textLength="21" lengthAdjust="spacingAndGlyphs">EL</text>
<rect x="2850" y="287" width="24.5" height="28"/><text transform="translate(2854 292)rotate(90)" textLength="21" lengthAdjust="spacingAndGlyphs">EL</text>
</g>
</g>

<g id="connecting-marks">
<use href="#tu" x="1870" y="52"/><use href="#tu" x="2136" y="52"/><use href="#tu" x="2403" y="52"/><use href="#tu" x="2538" y="53"/><use href="#tu" x="3577" y="52.7"/><use href="#tu" x="3708" y="54.4"/>
<use href="#tu" x="1969.4" y="165"/><use href="#tu" x="2035" y="164"/><use href="#tu" x="2101.6" y="164"/><use href="#tu" x="2235.5" y="163"/><use href="#tu" x="3438.4" y="164"/><use href="#tu" x="3674" y="165.5"/>
<use href="#td" x="393" y="433.5"/><use href="#td" x="1903" y="343"/><use href="#td" x="2036" y="349"/><use href="#td" x="1869" y="463"/><use href="#td" x="2337" y="470"/><use href="#td" x="2605.6" y="471.5"/>
<use href="#td" x="3439.7" y="350.5"/><use href="#td" x="3676" y="349"/><use href="#td" x="3577" y="457"/><use href="#td" x="3709" y="462.6"/>
</g>
</svg>
